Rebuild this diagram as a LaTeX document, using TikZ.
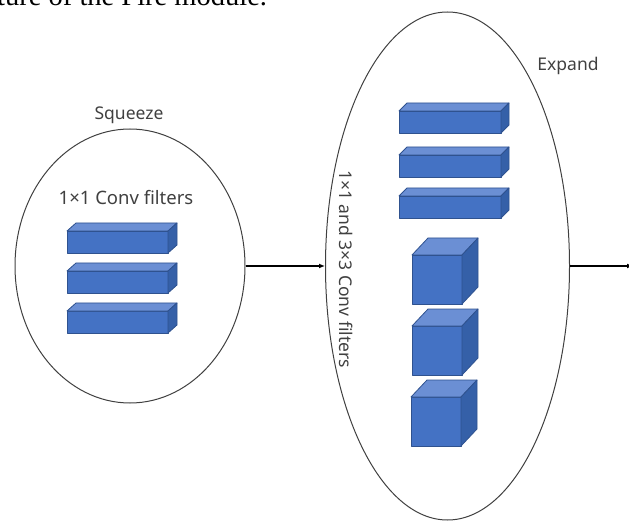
\documentclass[tikz,border=0pt]{standalone}
\usepackage{fontspec}
\setmainfont{Liberation Serif}
\newfontfamily\labelfont{Noto Sans}
\usetikzlibrary{shapes.geometric,arrows.meta}

\definecolor{facefront}{HTML}{4472C4}
\definecolor{facetop}{HTML}{6B8FD4}
\definecolor{faceside}{HTML}{3560A8}
\definecolor{faceedge}{HTML}{2F528F}
\definecolor{labelgray}{HTML}{404040}

% cuboid: left x, top y of front face, width, height, depth dx, depth dy
\newcommand\cuboid[6]{%
  \draw[boxedge,fill=facefront] (#1,#2) rectangle ++(#3,#4);
  \draw[boxedge,fill=facetop] (#1,#2) -- ++(#5,-#6) -- ++(#3,0) -- ++(-#5,#6) -- cycle;
  \draw[boxedge,fill=faceside] (#1+#3,#2) -- ++(#5,-#6) -- ++(0,#4) -- ++(-#5,#6) -- cycle;
}

\tikzset{
  boxedge/.style={draw=faceedge, line width=0.8pt, line join=round},
  group/.style={ellipse, draw=labelgray, line width=1pt, inner sep=0pt},
  lbl/.style={text=labelgray, font=\labelfont\fontsize{17.5}{17.5}\selectfont, inner sep=0pt},
  arr/.style={draw=black, line width=1.2pt, -{Latex[length=6pt,width=5pt]}},
}

\begin{document}
\begin{tikzpicture}[x=1pt,y=-1pt]
\useasboundingbox (0,0) rectangle (629,521);

% caption line above the figure
\node[anchor=base west, inner sep=0pt, font=\fontsize{28.5}{28.5}\selectfont] (caption) at (-3,6) {ture of the Fire module.};

% squeeze stage
\node[group, minimum width=230pt, minimum height=274pt] (sq) at (130,266) {};
\node[lbl] (sqlabel) at (129,115) {Squeeze};
\node[lbl, font=\labelfont\fontsize{18.5}{18.5}\selectfont] (sqfilters) at (126,198) {1×1 Conv filters};
\cuboid{67}{231}{101}{22}{9}{8}
\cuboid{67}{271}{101}{22}{9}{8}
\cuboid{67}{311}{101}{22}{9}{8}

% expand stage
\node[group, minimum width=244pt, minimum height=508pt] (ex) at (447.5,266) {};
\node[lbl] (exlabel) at (568,66) {Expand};
\node[lbl, rotate=-90] (exfilters) at (346,269) {1×1 and 3×3 Conv filters};
\cuboid{399}{111}{102}{22}{8}{8}
\cuboid{399}{155}{102}{22}{8}{8}
\cuboid{399}{196}{102}{22}{8}{8}
\cuboid{412}{255}{50}{49}{16}{17}
\cuboid{412}{326}{50}{49}{16}{17}
\cuboid{411}{397}{50}{49}{16}{17}

% connectors
\coordinate (out) at (633,266);
\draw[arr] (sq.east) -- (ex.west);
\draw[arr] (ex.east) -- (out);
\end{tikzpicture}
\end{document}
